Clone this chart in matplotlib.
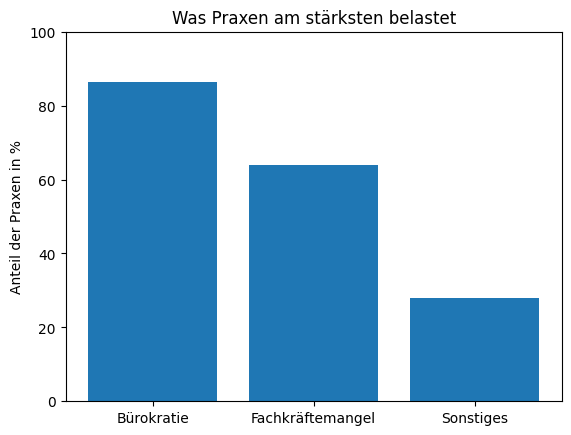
import matplotlib
matplotlib.use('Agg')
import matplotlib.pyplot as plt

categories = ['Bürokratie', 'Fachkräftemangel', 'Sonstiges']
values = [86.3, 64.0, 28.0]

fig, ax = plt.subplots(figsize=(6.4, 4.8), dpi=100)
ax.bar(categories, values, color='#1f77b4')
ax.set_ylim(0, 100)
ax.set_ylabel('Anteil der Praxen in %')
ax.set_title('Was Praxen am stärksten belastet')

fig.savefig('out.png', bbox_inches='tight')
